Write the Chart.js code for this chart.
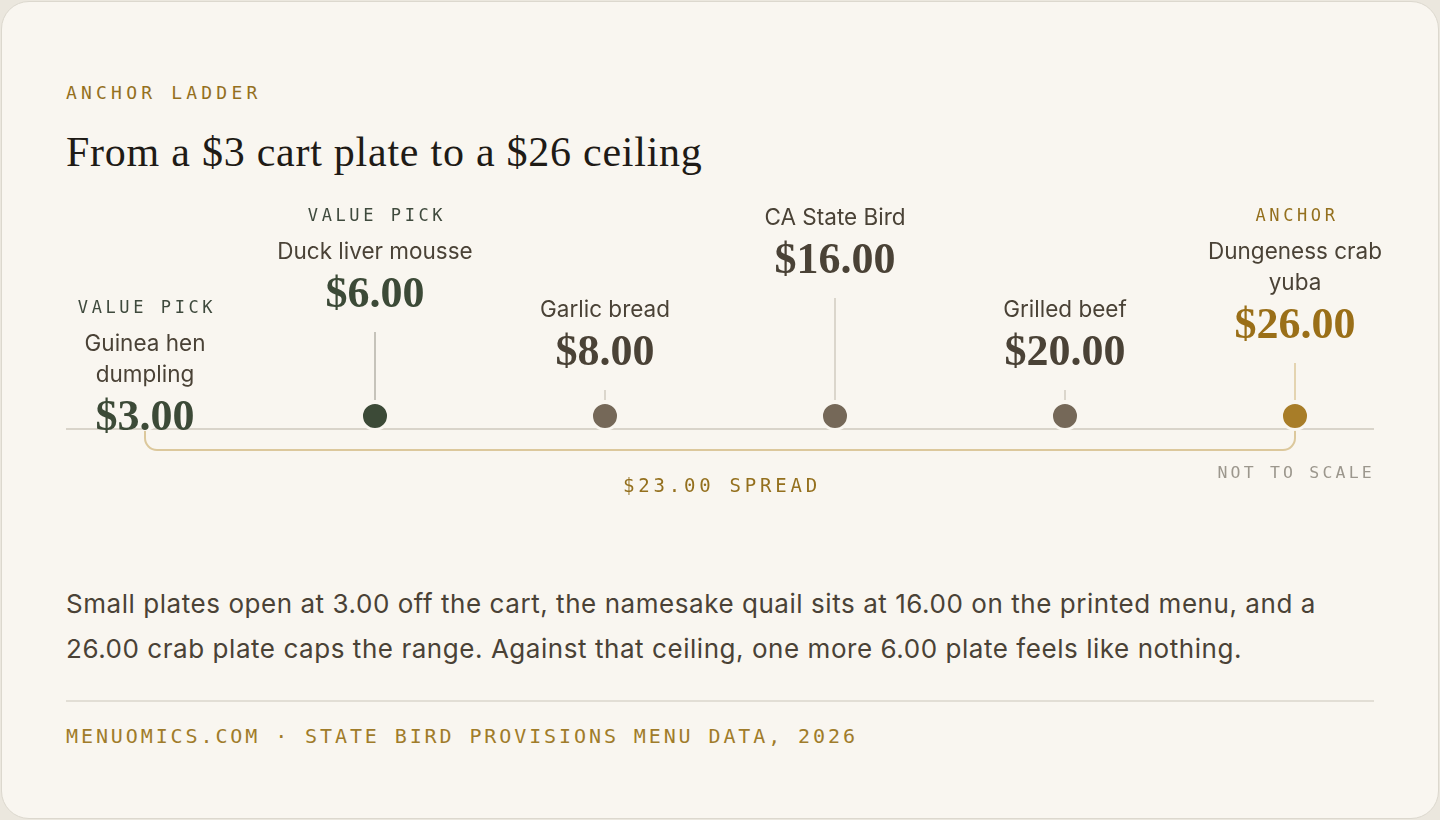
<!DOCTYPE html>
<html>
<head>
<meta charset="utf-8">
<script src="https://cdn.jsdelivr.net/npm/chart.js@4.4.1/dist/chart.umd.min.js"></script>
<style>
  html, body { margin: 0; padding: 0; background: #ebe7de; }
  body { width: 1440px; height: 820px; position: relative; overflow: hidden; }
  .card {
    position: absolute; left: 1px; top: 1px; width: 1436px; height: 816px;
    background: #f9f6f0; border: 1px solid #dcd8ce; border-radius: 28px;
  }
  .kicker {
    position: absolute; left: 66px; top: 82px; margin: 0;
    font: 18px "DejaVu Sans Mono", monospace; letter-spacing: 4.2px; color: #94701e;
  }
  h1 {
    position: absolute; left: 66px; top: 128px; margin: 0;
    font: 400 42px "Liberation Serif", serif; color: #1f1b16; letter-spacing: 0.75px;
  }
  #wrap { position: absolute; left: 46px; top: 190px; width: 1348px; height: 330px; }
  .note {
    position: absolute; left: 66px; top: 581px; width: 1290px; margin: 0;
    font: 26px Inter, sans-serif; line-height: 45px; color: #4a4236; letter-spacing: 0.55px;
  }
  .rule { position: absolute; left: 66px; top: 700px; width: 1308px; height: 2px; background: #e2ded5; }
  .source {
    position: absolute; left: 66px; top: 724px; margin: 0;
    font: 20px "DejaVu Sans Mono", monospace; letter-spacing: 2.9px; color: #a07c2a;
  }
</style>
</head>
<body>
<div class="card"></div>
<p class="kicker">ANCHOR LADDER</p>
<h1>From a $3 cart plate to a $26 ceiling</h1>
<div id="wrap"><canvas id="ladder"></canvas></div>
<p class="note">Small plates open at 3.00 off the cart, the namesake quail sits at 16.00 on the printed menu, and a 26.00 crab plate caps the range. Against that ceiling, one more 6.00 plate feels like nothing.</p>
<div class="rule"></div>
<p class="source">MENUOMICS.COM · STATE BIRD PROVISIONS MENU DATA, 2026</p>

<script>
const dishes = ['Guinea hen dumpling', 'Duck liver mousse', 'Garlic bread', 'CA State Bird', 'Grilled beef', 'Dungeness crab yuba'];
const prices = [3, 6, 8, 16, 20, 26];
const tags = ['VALUE PICK', 'VALUE PICK', '', '', '', 'ANCHOR'];
const kinds = ['value', 'value', 'plain', 'plain', 'plain', 'anchor'];

const BG = '#f9f6f0';
const EDGE = 20; // canvas overhang on each side of the card's content column
const dotColor = { value: '#3c4a37', plain: '#756858', anchor: '#a87d28' };
const priceColor = { value: '#3c4a37', plain: '#4a4236', anchor: '#9a6f18' };
const tagColor = { value: '#3f4a3d', plain: '#3f4a3d', anchor: '#94701e' };
const stemColor = { value: '#b5b2a8', plain: '#d0cbc1', anchor: '#dcc99c' };

function wrapText(ctx, text, maxW) {
    const words = text.split(' ');
    const lines = [];
    let line = '';
    words.forEach(w => {
        const test = line ? line + ' ' + w : w;
        if (ctx.measureText(test).width > maxW && line) {
            lines.push(line);
            line = w;
        } else {
            line = test;
        }
    });
    lines.push(line);
    return lines;
}

const ladderPlugin = {
    id: 'ladder',
    beforeDatasetsDraw(chart) {
        const ctx = chart.ctx;
        const pts = chart.getDatasetMeta(0).data;
        const y = pts[0].y;
        ctx.save();
        // baseline
        ctx.strokeStyle = '#d9d4ca';
        ctx.lineWidth = 2;
        ctx.beginPath();
        ctx.moveTo(EDGE, y + 13);
        ctx.lineTo(chart.width - EDGE, y + 13);
        ctx.stroke();
        // spread bracket
        const x1 = pts[0].x, x2 = pts[pts.length - 1].x;
        const by = y + 34, r = 12;
        ctx.strokeStyle = '#dcc89c';
        ctx.beginPath();
        ctx.moveTo(x1, y + 13);
        ctx.lineTo(x1, by - r);
        ctx.arcTo(x1, by, x1 + r, by, r);
        ctx.lineTo(x2 - r, by);
        ctx.arcTo(x2, by, x2, by - r, r);
        ctx.lineTo(x2, y + 13);
        ctx.stroke();

        ctx.letterSpacing = '3.8px';
        ctx.font = '19px "DejaVu Sans Mono", monospace';
        ctx.fillStyle = '#94701e';
        ctx.textAlign = 'center';
        ctx.textBaseline = 'middle';
        const spread = Math.max(...prices) - Math.min(...prices);
        ctx.fillText('$' + spread.toFixed(2) + ' SPREAD', (x1 + x2) / 2 + 2, y + 71);

        ctx.letterSpacing = '3.2px';
        ctx.font = '16.5px "DejaVu Sans Mono", monospace';
        ctx.fillStyle = '#9c978d';
        ctx.textAlign = 'right';
        ctx.fillText('NOT TO SCALE', chart.width - EDGE + 1, y + 58);
        ctx.restore();
    },
    afterDatasetsDraw(chart) {
        const ctx = chart.ctx;
        const pts = chart.getDatasetMeta(0).data;
        ctx.save();
        ctx.textAlign = 'center';
        ctx.textBaseline = 'middle';
        pts.forEach((p, i) => {
            const kind = kinds[i];
            const top = p.y - (i % 2 === 0 ? 116 : 208);
            let cy = top;
            ctx.letterSpacing = '0px';
            ctx.font = '22.5px Inter, sans-serif';
            const lines = wrapText(ctx, dishes[i], 210);
            // stack: tag, name lines, price
            const rows = [];
            if (tags[i]) { rows.push({ t: 'tag', y: top + 9 }); cy = top + 9 + 35; }
            else { cy = top + 10; }
            lines.forEach(l => { rows.push({ t: 'name', s: l, y: cy }); cy += 31; });
            cy += 13;
            rows.push({ t: 'price', y: cy });
            const stemTop = cy + 36, stemBottom = p.y - 16;
            if (stemBottom > stemTop) {
                ctx.strokeStyle = stemColor[kind];
                ctx.lineWidth = 1.5;
                ctx.beginPath();
                ctx.moveTo(p.x, stemTop);
                ctx.lineTo(p.x, stemBottom);
                ctx.stroke();
            } else {
                // label sits on the rung: mask the dot so the price reads cleanly
                ctx.fillStyle = BG;
                ctx.fillRect(p.x - 60, top, 120, p.y + 12 - top);
                ctx.strokeStyle = '#d9d4ca';
                ctx.lineWidth = 2;
                ctx.beginPath();
                ctx.moveTo(p.x - 60, p.y + 13);
                ctx.lineTo(p.x, p.y + 13);
                ctx.stroke();
            }
            rows.forEach(row => {
                if (row.t === 'tag') {
                    ctx.letterSpacing = '3.6px';
                    ctx.font = '17px "DejaVu Sans Mono", monospace';
                    ctx.fillStyle = tagColor[kind];
                    ctx.fillText(tags[i], p.x + 2, row.y);
                } else if (row.t === 'name') {
                    ctx.letterSpacing = '0px';
                    ctx.font = '22.5px Inter, sans-serif';
                    ctx.fillStyle = '#4a4236';
                    ctx.fillText(row.s, p.x, row.y);
                } else {
                    ctx.letterSpacing = '0px';
                    ctx.font = 'bold 44px "Liberation Serif", serif';
                    ctx.fillStyle = priceColor[kind];
                    ctx.fillText('$' + prices[i].toFixed(2), p.x, row.y);
                }
            });
        });
        ctx.restore();
    }
};

new Chart(document.getElementById('ladder').getContext('2d'), {
    type: 'line',
    data: {
        labels: dishes,
        datasets: [{
            label: 'price',
            // not to scale: every rung sits on the same line, the price is in the label
            data: prices.map(() => 0),
            showLine: false,
            pointRadius: 13.5,
            pointHoverRadius: 13.5,
            pointBorderWidth: 3,
            pointBorderColor: BG,
            pointBackgroundColor: kinds.map(k => dotColor[k])
        }]
    },
    options: {
        responsive: true,
        maintainAspectRatio: false,
        animation: false,
        layout: { autoPadding: false, padding: { left: 79 + EDGE, right: 79 + EDGE, top: 122, bottom: 0 } },
        scales: {
            x: { type: 'category', offset: false, display: false },
            y: { min: -1, max: 1, display: false }
        },
        plugins: { legend: { display: false }, tooltip: { enabled: false } },
        events: []
    },
    plugins: [ladderPlugin]
});
</script>
</body>
</html>
